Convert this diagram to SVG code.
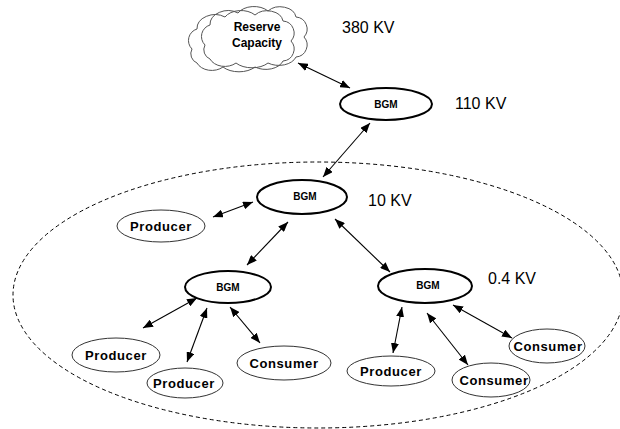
<svg xmlns="http://www.w3.org/2000/svg" width="620" height="429" viewBox="0 0 620 429">
<defs>
<marker id="ah" viewBox="0 0 10 8" refX="10" refY="4" markerWidth="10" markerHeight="8" markerUnits="userSpaceOnUse" orient="auto-start-reverse">
<path d="M0,0 L10,4 L0,8 z" fill="#000"/>
</marker>
<style>
.bgm{fill:#fff;stroke:#000;stroke-width:2}
.leaf{fill:#fff;stroke:#333;stroke-width:1}
.t{font-family:"Liberation Sans",Arial,sans-serif;font-weight:bold;fill:#000;text-anchor:middle}
.tb{font-size:10px}
.tl{font-size:13px;letter-spacing:0.6px}
.kv{font-family:"Liberation Sans",Arial,sans-serif;font-size:16px;fill:#000}
.cl{fill:none;stroke:#555;stroke-width:1}
.conn line{stroke:#000;stroke-width:1.1;marker-start:url(#ah);marker-end:url(#ah)}
</style>
</defs>
<rect width="620" height="429" fill="#fff"/>
<ellipse cx="318" cy="295" rx="305" ry="133" fill="none" stroke="#000" stroke-width="1" stroke-dasharray="4,3"/>

<g id="cloud">
<path class="cl" transform="translate(-13,4)" d="M205,45 a12,12 0 0 1 5,-20 a18,14 0 0 1 28,-12 a18,12 0 0 1 30,-2 a16,12 0 0 1 28,6 a12,12 0 0 1 8,20 a12,12 0 0 1 -8,20 a18,12 0 0 1 -28,6 a20,12 0 0 1 -32,0 a16,12 0 0 1 -26,-4 a10,10 0 0 1 -5,-14 z"/>
<path class="cl" d="M205,45 a12,12 0 0 1 5,-20 a18,14 0 0 1 28,-12 a18,12 0 0 1 30,-2 a16,12 0 0 1 28,6 a12,12 0 0 1 8,20 a12,12 0 0 1 -8,20 a18,12 0 0 1 -28,6 a20,12 0 0 1 -32,0 a16,12 0 0 1 -26,-4 a10,10 0 0 1 -5,-14 z"/>
<text class="t" x="257" y="31" font-size="12">Reserve</text>
<text class="t" x="257" y="47" font-size="12">Capacity</text>
</g>

<text class="kv" x="342" y="33">380 KV</text>
<text class="kv" x="455" y="109">110 KV</text>
<text class="kv" x="368" y="206">10 KV</text>
<text class="kv" x="488" y="284">0.4 KV</text>

<g class="conn" id="connectors">
<line x1="298" y1="63" x2="350" y2="88"/>
<line x1="370" y1="123" x2="323" y2="177"/>
<line x1="213" y1="217" x2="253" y2="202"/>
<line x1="288" y1="222" x2="247" y2="265"/>
<line x1="335" y1="219" x2="390" y2="272"/>
<line x1="197" y1="298" x2="143" y2="328"/>
<line x1="207" y1="308" x2="187" y2="362"/>
<line x1="230" y1="307" x2="260" y2="343"/>
<line x1="402" y1="307" x2="393" y2="353"/>
<line x1="427" y1="313" x2="468" y2="365"/>
<line x1="453" y1="305" x2="512" y2="338"/>
</g>

<g id="bgm1"><ellipse class="bgm" cx="386" cy="104" rx="46" ry="16"/><text class="t tb" x="386" y="108">BGM</text></g>
<g id="bgm2"><ellipse class="bgm" cx="302" cy="197" rx="45" ry="17"/><text class="t tb" x="305" y="200">BGM</text></g>
<g id="bgm3"><ellipse class="bgm" cx="228" cy="287" rx="43" ry="16"/><text class="t tb" x="228" y="291">BGM</text></g>
<g id="bgm4"><ellipse class="bgm" cx="425" cy="286" rx="47" ry="17"/><text class="t tb" x="428" y="289">BGM</text></g>

<g id="producer1"><ellipse class="leaf" cx="161" cy="226" rx="44" ry="16"/><text class="t tl" x="161" y="231">Producer</text></g>
<g id="producer2"><ellipse class="leaf" cx="116" cy="355" rx="44" ry="17"/><text class="t tl" x="116" y="360">Producer</text></g>
<g id="producer3"><ellipse class="leaf" cx="185" cy="383" rx="38" ry="15"/><text class="t tl" x="184" y="388">Producer</text></g>
<g id="consumer1"><ellipse class="leaf" cx="284" cy="363" rx="47" ry="17"/><text class="t tl" x="284" y="368">Consumer</text></g>
<g id="producer4"><ellipse class="leaf" cx="391" cy="371" rx="44" ry="15"/><text class="t tl" x="391" y="376">Producer</text></g>
<g id="consumer2"><ellipse class="leaf" cx="491" cy="380" rx="39" ry="17"/><text class="t tl" x="494" y="385">Consumer</text></g>
<g id="consumer3"><ellipse class="leaf" cx="547" cy="346" rx="38" ry="17"/><text class="t tl" x="548" y="351">Consumer</text></g>
</svg>
